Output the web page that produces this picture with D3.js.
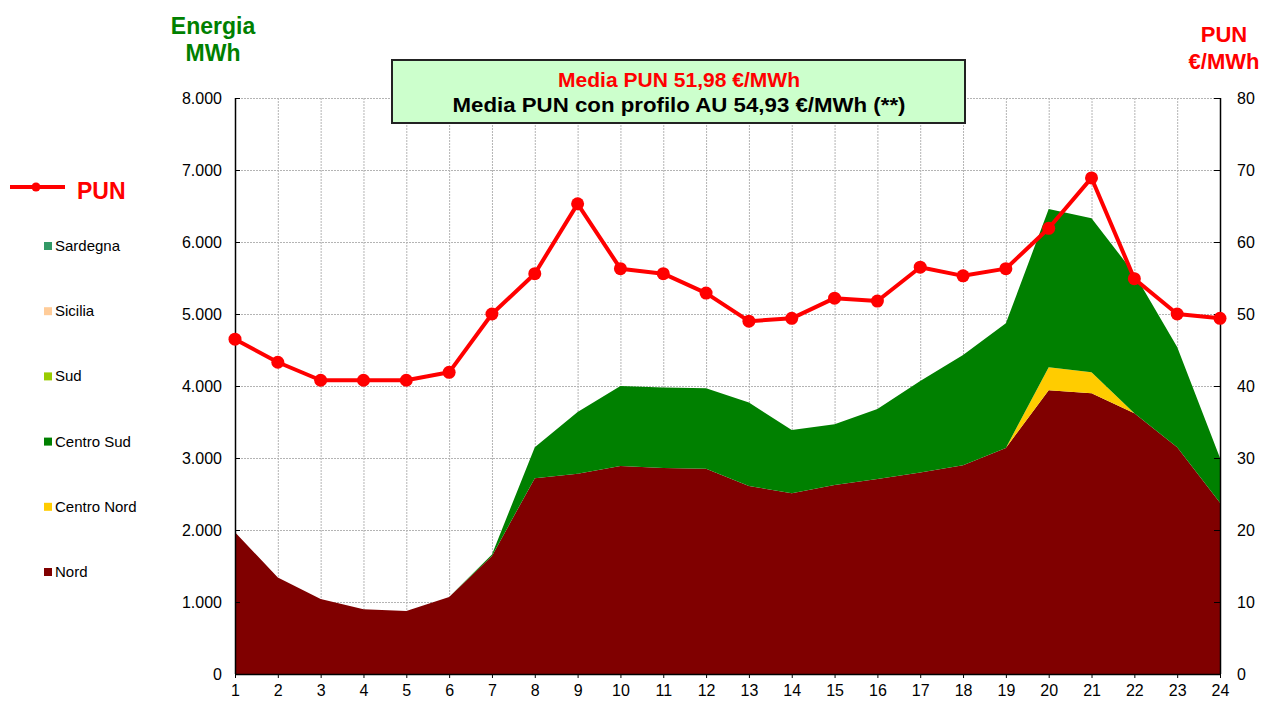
<!DOCTYPE html>
<html>
<head>
<meta charset="utf-8">
<script src="https://cdn.jsdelivr.net/npm/d3@7"></script>
<style>
body { margin: 0; background: #fff; }
svg { font-family: Arial, "Liberation Sans", sans-serif; }
</style>
</head>
<body>
<div id="main"></div>
<script>
// hours 1..24
var hours = d3.range(1, 25);
var zones = ["Nord", "Centro Nord", "Centro Sud", "Sud", "Sicilia", "Sardegna"];
var zone_colors = ["#800000", "#ffcc00", "#008000", "#99cc00", "#ffcc99", "#339966"];

var nord = [1970, 1340, 1040, 900, 875, 1070, 1640, 2720, 2780, 2890, 2860, 2850,
            2610, 2510, 2625, 2710, 2800, 2900, 3140, 3940, 3900, 3620, 3150, 2380];
var centro_nord = [0, 0, 0, 0, 0, 0, 0, 0, 0, 0, 0, 0,
                   0, 0, 0, 0, 0, 0, 0, 320, 290, 0, 0, 0];
var centro_sud = [0, 0, 0, 0, 0, 0, 20, 430, 860, 1110, 1120, 1120,
                  1160, 880, 845, 970, 1270, 1530, 1730, 2200, 2140, 1940, 1390, 620];
var sud = [0, 0, 0, 0, 0, 0, 0, 0, 0, 0, 0, 0, 0, 0, 0, 0, 0, 0, 0, 0, 0, 0, 0, 0];
var sicilia = [0, 0, 0, 0, 0, 0, 0, 0, 0, 0, 0, 0, 0, 0, 0, 0, 0, 0, 0, 0, 0, 0, 0, 0];
var sardegna = [0, 0, 0, 0, 0, 0, 0, 0, 0, 0, 0, 0, 0, 0, 0, 0, 0, 0, 0, 0, 0, 0, 0, 0];

var pun = [46.5, 43.3, 40.8, 40.8, 40.8, 41.9, 50.0, 55.6, 65.3, 56.3, 55.6, 52.9,
           49.0, 49.4, 52.2, 51.8, 56.5, 55.3, 56.3, 61.9, 68.9, 54.9, 50.0, 49.4];

var left_ticks = [0, 1000, 2000, 3000, 4000, 5000, 6000, 7000, 8000];
var right_ticks = [0, 10, 20, 30, 40, 50, 60, 70, 80];

var W = 1262, H = 704;
var svg = d3.select("#main").append("svg").attr("width", W).attr("height", H);

var x = d3.scaleLinear().domain([1, 24]).range([235, 1220]);
var y = d3.scaleLinear().domain([0, 8000]).range([674, 98]);
var y2 = d3.scaleLinear().domain([0, 80]).range([674, 98]);

var series_values = [nord, centro_nord, centro_sud, sud, sicilia, sardegna];
var table = hours.map(function(h, i) {
    var row = {hour: h};
    zones.forEach(function(z, k) { row[z] = series_values[k][i]; });
    return row;
});

// grid
var grid = svg.append("g").attr("stroke", "#b4b4b4").attr("stroke-width", 1)
    .attr("stroke-dasharray", "2,1");
grid.selectAll(".gx").data(hours.slice(1, -1)).enter().append("line")
    .attr("x1", function(d) { return x(d) + 0.5; })
    .attr("x2", function(d) { return x(d) + 0.5; })
    .attr("y1", y(8000)).attr("y2", y(0));
grid.selectAll(".gy").data(left_ticks.slice(1)).enter().append("line")
    .attr("x1", x(1)).attr("x2", x(24))
    .attr("y1", function(d) { return y(d) + 0.5; })
    .attr("y2", function(d) { return y(d) + 0.5; });

// stacked areas
var stack = d3.stack().keys(zones);
var layers = stack(table);
var area = d3.area()
    .x(function(d) { return x(d.data.hour); })
    .y0(function(d) { return y(d[0]); })
    .y1(function(d) { return y(d[1]); });
svg.append("g").selectAll("path").data(layers).enter().append("path")
    .attr("d", area)
    .attr("fill", function(d, i) { return zone_colors[i]; });

// axes
var axisL = svg.append("g").attr("transform", "translate(" + x(1) + ",0)")
    .call(d3.axisLeft(y).tickValues(left_ticks).tickSize(-5).tickPadding(13)
          .tickFormat(function(d) { return d3.format(",")(d).replace(/,/g, "."); }));
var axisR = svg.append("g").attr("transform", "translate(" + x(24) + ",0)")
    .call(d3.axisRight(y2).tickValues(right_ticks).tickSize(-6).tickPadding(17));
var axisB = svg.append("g").attr("transform", "translate(0," + y(0) + ")")
    .call(d3.axisBottom(x).tickValues(hours).tickSize(4).tickPadding(4).tickFormat(d3.format("d")));
[axisL, axisR, axisB].forEach(function(a) {
    a.select(".domain").attr("stroke", "#000").attr("stroke-width", 1.5);
    a.selectAll(".tick line").attr("stroke", "#000");
    a.selectAll("text").attr("font-size", 16).attr("fill", "#000")
        .attr("font-family", "Arial, 'Liberation Sans', sans-serif");
});
axisL.select(".domain").attr("d", "M0.5," + y(8000) + "V" + y(0));
axisR.select(".domain").attr("d", "M0.5," + y2(80) + "V" + y2(0));
axisB.select(".domain").attr("d", "M" + x(1) + ",0.5H" + x(24));
axisB.selectAll("text").attr("dy", "0.9em");

// PUN line
var line = d3.line()
    .x(function(d, i) { return x(hours[i]); })
    .y(function(d) { return y2(d); });
svg.append("path").datum(pun).attr("d", line)
    .attr("fill", "none").attr("stroke", "#ff0000").attr("stroke-width", 4)
    .attr("stroke-linejoin", "round");
svg.selectAll(".pt").data(pun).enter().append("circle")
    .attr("cx", function(d, i) { return x(hours[i]); })
    .attr("cy", function(d) { return y2(d); })
    .attr("r", 6.5).attr("fill", "#ff0000");

// title box
svg.append("rect").attr("x", 392).attr("y", 60).attr("width", 573).attr("height", 63)
    .attr("fill", "#ccffcc").attr("stroke", "#222").attr("stroke-width", 2);
svg.append("text").attr("x", 679).attr("y", 87).attr("text-anchor", "middle")
    .attr("font-size", 20).attr("font-weight", "bold").attr("fill", "#ff0000")
    .attr("textLength", 242).attr("lengthAdjust", "spacingAndGlyphs")
    .text("Media PUN 51,98 €/MWh");
svg.append("text").attr("x", 679).attr("y", 112).attr("text-anchor", "middle")
    .attr("font-size", 20).attr("font-weight", "bold").attr("fill", "#000")
    .attr("textLength", 453).attr("lengthAdjust", "spacingAndGlyphs")
    .text("Media PUN con profilo AU 54,93 €/MWh (**)");

// axis titles
var tl = svg.append("text").attr("text-anchor", "middle").attr("font-size", 23)
    .attr("font-weight", "bold").attr("fill", "#008000");
tl.append("tspan").attr("x", 213).attr("y", 34).text("Energia");
tl.append("tspan").attr("x", 213).attr("y", 61).text("MWh");
var tr = svg.append("text").attr("text-anchor", "middle").attr("font-size", 22)
    .attr("font-weight", "bold").attr("fill", "#ff0000");
tr.append("tspan").attr("x", 1224).attr("y", 42).text("PUN");
tr.append("tspan").attr("x", 1224).attr("y", 69).text("€/MWh");

// legend
var leg = svg.append("g");
leg.append("line").attr("x1", 10).attr("x2", 65).attr("y1", 187).attr("y2", 187)
    .attr("stroke", "#ff0000").attr("stroke-width", 4);
leg.append("circle").attr("cx", 36).attr("cy", 187).attr("r", 4.5).attr("fill", "#ff0000");
leg.append("text").attr("x", 77).attr("y", 199).attr("font-size", 23)
    .attr("font-weight", "bold").attr("fill", "#ff0000").text("PUN");

var leg_order = ["Sardegna", "Sicilia", "Sud", "Centro Sud", "Centro Nord", "Nord"];
var leg_rows = leg.selectAll(".lr").data(leg_order).enter().append("g")
    .attr("transform", function(d, i) { return "translate(0," + (246 + i * 65.2) + ")"; });
leg_rows.append("rect").attr("x", 44).attr("y", -4).attr("width", 8).attr("height", 8)
    .attr("fill", function(d) { return zone_colors[zones.indexOf(d)]; });
leg_rows.append("text").attr("x", 55).attr("y", 5).attr("font-size", 15)
    .attr("fill", "#000").text(function(d) { return d; });
</script>
</body>
</html>
